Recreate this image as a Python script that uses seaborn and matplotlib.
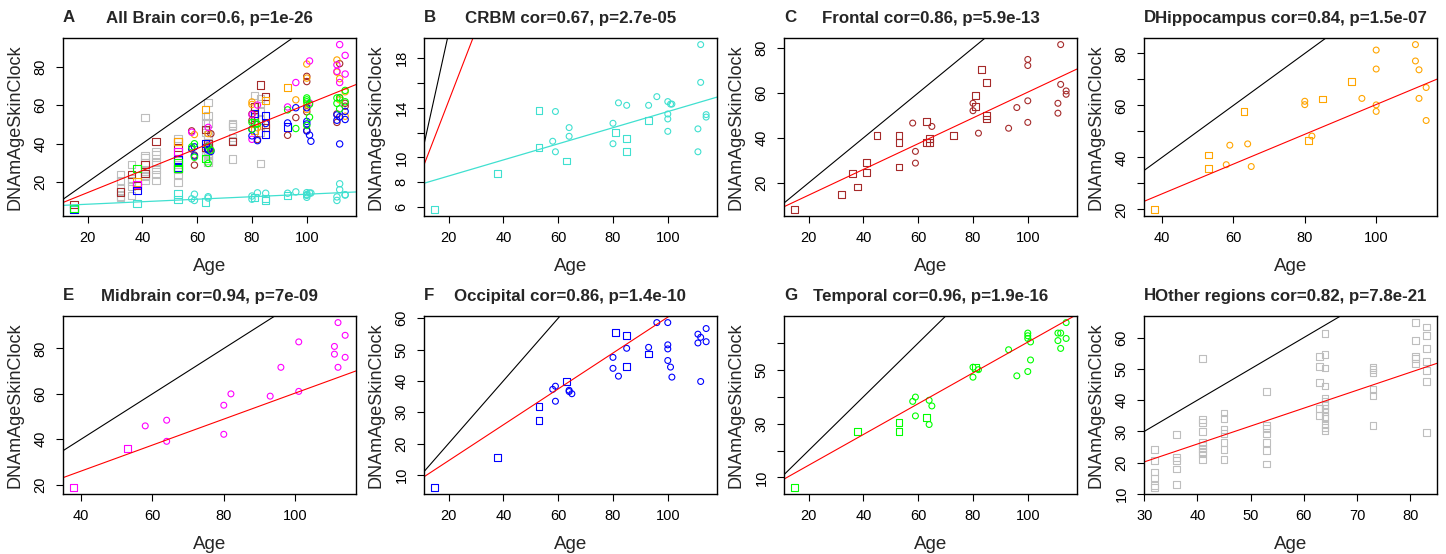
import numpy as np
import pandas as pd
import matplotlib
matplotlib.use("Agg")
import matplotlib.pyplot as plt
import seaborn as sns

# ---------------- data ----------------
crbm_sq_age = [15, 38, 53, 53, 63, 81, 85, 85, 93]
crbm_sq_val = [5.8, 8.7, 13.8, 10.8, 9.7, 12.0, 11.5, 10.45, 13.0]
crbm_ci_age = [58, 59, 59, 64, 64, 80, 80, 82, 85, 93, 96, 100, 100, 100, 100, 101, 101.5,
               111, 111, 112, 112, 114, 114]
crbm_ci_val = [11.3, 13.7, 10.45, 12.4, 11.7, 12.75, 11.1, 14.4, 14.2, 14.2, 14.9, 14.5, 13.5,
               13.1, 12.1, 14.3, 14.3, 12.3, 10.45, 19.1, 16.05, 13.45, 13.25]

frontal_sq_age = [15, 32, 36, 38, 41, 41, 45, 53, 53, 53, 63, 63, 64, 64, 73, 81, 81, 83, 85, 85, 85]
frontal_sq_val = [8.2, 14.9, 24.1, 18.2, 29.0, 24.6, 41.0, 41.0, 37.8, 27.1, 47.4, 37.8, 39.9,
                  37.8, 41.0, 59.0, 53.8, 70.4, 64.6, 50.1, 48.4]
frontal_ci_age = [58, 59, 59, 65, 80, 80, 82, 93, 96, 100, 100, 100, 100, 111, 111, 112, 112, 114, 114]
frontal_ci_val = [46.6, 34.0, 28.8, 45.1, 55.4, 52.1, 42.1, 44.3, 53.5, 74.9, 72.2, 56.5, 46.9,
                  55.4, 51.0, 81.5, 63.8, 60.9, 59.4]

hippo_sq_age = [38, 53, 53, 63, 81, 85, 93]
hippo_sq_val = [20.0, 40.9, 35.6, 57.7, 46.6, 62.5, 69.2]
hippo_ci_age = [58, 59, 64, 65, 80, 80, 82, 96, 100, 100, 100, 100, 111, 111, 112, 112, 114, 114]
hippo_ci_val = [37.2, 44.7, 45.2, 36.5, 61.6, 60.3, 48.2, 62.7, 81.3, 74.0, 60.2, 57.7, 83.4,
                77.1, 73.7, 62.7, 66.9, 54.2]

midbrain_sq_age = [38, 53]
midbrain_sq_val = [18.8, 36.0]
midbrain_ci_age = [58, 64, 64, 80, 80, 82, 93, 96, 101, 101, 111, 111, 112, 112, 114, 114]
midbrain_ci_val = [45.9, 48.4, 39.1, 55.0, 42.2, 60.0, 59.0, 71.7, 82.9, 61.1, 80.9, 77.5,
                   91.4, 71.7, 85.8, 76.1]

occip_sq_age = [15, 38, 53, 53, 63, 81, 85, 85, 93]
occip_sq_val = [6.0, 15.5, 31.7, 27.4, 39.9, 55.5, 54.4, 44.6, 48.6]
occip_ci_age = [58, 59, 59, 64, 64, 65, 80, 80, 82, 85, 93, 96, 100, 100, 100, 100, 101, 101.5,
                111, 111, 112, 112, 114, 114]
occip_ci_val = [37.3, 38.3, 33.5, 37.0, 36.6, 35.9, 47.5, 44.0, 41.5, 50.4, 50.7, 58.6, 58.6,
                51.5, 50.2, 46.5, 44.4, 41.2, 54.9, 52.1, 53.9, 39.8, 56.7, 52.5]

temporal_sq_age = [15, 38, 53, 53, 63, 81]
temporal_sq_val = [6.3, 27.0, 30.3, 27.2, 32.3, 51.0]
temporal_ci_age = [58, 59, 59, 64, 64, 65, 80, 80, 82, 93, 96, 100, 100, 100, 100, 101, 101,
                   111, 111, 112, 112, 114, 114]
temporal_ci_val = [38.3, 39.9, 32.9, 38.7, 29.7, 36.6, 51.0, 47.3, 50.1, 57.5, 47.8, 63.7, 62.7,
                   61.7, 49.4, 60.4, 53.7, 63.7, 60.9, 63.7, 58.0, 67.6, 61.7]

other_sq_age = ([32] * 6 + [36] * 5 + [41] * 10 + [45] * 7 + [53] * 7 + [63] * 5 + [64] * 14
                + [73] * 6 + [81] * 5 + [83] * 7)
other_sq_val = [24.1, 20.6, 17.0, 15.1, 12.7, 12.1,
                29.0, 21.6, 20.6, 18.0, 13.0,
                53.4, 33.9, 32.8, 29.9, 26.5, 25.6, 24.6, 23.5, 22.8, 20.9,
                35.9, 34.1, 30.6, 29.3, 26.4, 24.1, 20.9,
                42.8, 32.0, 30.9, 29.2, 26.5, 23.8, 19.6,
                53.9, 50.7, 45.7, 37.3, 35.2,
                61.3, 54.7, 50.3, 44.5, 40.7, 39.6, 38.3, 37.3, 36.4, 34.8, 34.1, 32.2, 31.2, 30.4,
                50.5, 49.7, 48.9, 43.3, 41.5, 32.0,
                64.8, 59.2, 54.0, 53.4, 51.8,
                63.4, 60.7, 56.5, 52.3, 49.4, 45.9, 29.6]
other_ci_age = []
other_ci_val = []

regions = ["Other regions", "CRBM", "Frontal", "Hippocampus", "Midbrain", "Occipital", "Temporal"]
region_colors = ["#BEBEBE", "#40E0D0", "#A52A2A", "#FFA500", "#FF00FF", "#0000FF", "#00FF00"]
palette = dict(zip(regions, region_colors))

raw = {
    "Other regions": (other_sq_age, other_sq_val, other_ci_age, other_ci_val),
    "CRBM": (crbm_sq_age, crbm_sq_val, crbm_ci_age, crbm_ci_val),
    "Frontal": (frontal_sq_age, frontal_sq_val, frontal_ci_age, frontal_ci_val),
    "Hippocampus": (hippo_sq_age, hippo_sq_val, hippo_ci_age, hippo_ci_val),
    "Midbrain": (midbrain_sq_age, midbrain_sq_val, midbrain_ci_age, midbrain_ci_val),
    "Occipital": (occip_sq_age, occip_sq_val, occip_ci_age, occip_ci_val),
    "Temporal": (temporal_sq_age, temporal_sq_val, temporal_ci_age, temporal_ci_val),
}
rows = []
for reg in regions:
    sa, sv, ca, cv = raw[reg]
    rows += [(a, v, reg, "sq") for a, v in zip(sa, sv)]
    rows += [(a, v, reg, "ci") for a, v in zip(ca, cv)]
df = pd.DataFrame(rows, columns=["Age", "Clock", "Region", "Shape"])

panel_letters = ["A", "B", "C", "D", "E", "F", "G", "H"]
panel_titles = ["All Brain cor=0.6, p=1e-26", "CRBM cor=0.67, p=2.7e-05",
                "Frontal cor=0.86, p=5.9e-13", "Hippocampus cor=0.84, p=1.5e-07",
                "Midbrain cor=0.94, p=7e-09", "Occipital cor=0.86, p=1.4e-10",
                "Temporal cor=0.96, p=1.9e-16", "Other regions cor=0.82, p=7.8e-21"]
panel_regions = [regions, ["CRBM"], ["Frontal"], ["Hippocampus"], ["Midbrain"],
                 ["Occipital"], ["Temporal"], ["Other regions"]]
panel_xticks = [[20, 40, 60, 80, 100]] * 3 + [[40, 60, 80, 100]] * 2 + [[20, 40, 60, 80, 100]] * 2 \
    + [[30, 40, 50, 60, 70, 80]]
panel_yticks = [[20, 40, 60, 80], [6, 8, 10, 12, 14, 16, 18], [20, 40, 60, 80],
                [20, 30, 40, 50, 60, 70, 80], [20, 40, 60, 80], [10, 20, 30, 40, 50, 60],
                [10, 20, 30, 40, 50, 60], [10, 20, 30, 40, 50, 60]]
panel_ylabels = [["20", "40", "60", "80"], ["6", "8", "10", "", "14", "", "18"],
                 ["20", "40", "60", "80"], ["20", "", "40", "", "60", "", "80"],
                 ["20", "40", "60", "80"], ["10", "20", "30", "40", "50", "60"],
                 ["10", "", "30", "", "50", ""], ["10", "20", "30", "40", "50", "60"]]

# ---------------- style ----------------
sns.set_theme(style="ticks")
plt.rcParams["font.family"] = ["Liberation Sans", "DejaVu Sans"]
plt.rcParams["axes.edgecolor"] = "black"
plt.rcParams["xtick.color"] = "black"
plt.rcParams["ytick.color"] = "black"

W, H = 1446, 554
fig = plt.figure(figsize=(W / 100, H / 100), dpi=100)
fig.patch.set_facecolor("white")

col_left = [63, 424, 784, 1144]
ax_w = 293
row_top = [38, 316]
ax_h = 178

# overall (non-cerebellum) regression for the red line, CRBM regression for the cyan line
brain = df[df.Region != "CRBM"]
red_b, red_a = np.polyfit(brain.Age, brain.Clock, 1)
crbm = df[df.Region == "CRBM"]
cy_b, cy_a = np.polyfit(crbm.Age, crbm.Clock, 1)

for i in range(8):
    r, c = divmod(i, 4)
    left, top = col_left[c], row_top[r]
    ax = fig.add_axes([left / W, 1 - (top + ax_h) / H, ax_w / W, ax_h / H])
    sub = df[df.Region.isin(panel_regions[i])]
    scale = 1.15 if i == 0 else 1.0
    for shape, mk, s in [("sq", "s", 24), ("ci", "o", 18)]:
        part = sub[sub.Shape == shape]
        if len(part) == 0:
            continue
        sns.scatterplot(data=part, x="Age", y="Clock", hue="Region", palette=palette,
                        marker=mk, s=s * scale, linewidth=0.8, legend=False, ax=ax)
        coll = ax.collections[-1]
        fc = coll.get_facecolors()
        coll.set_edgecolors(fc)
        coll.set_facecolors("none")
    xr = sub.Age.max() - sub.Age.min()
    yr = sub.Clock.max() - sub.Clock.min()
    ax.set_xlim(sub.Age.min() - 0.04 * xr, sub.Age.max() + 0.04 * xr)
    ax.set_ylim(sub.Clock.min() - 0.04 * yr, sub.Clock.max() + 0.04 * yr)

    ax.axline((0, 0), slope=1, color="black", lw=0.8)
    ax.axline((0, red_a), slope=red_b, color="red", lw=0.8)
    if i in (0, 1):
        ax.axline((0, cy_a), slope=cy_b, color="#40E0D0", lw=0.9)

    ax.set_xticks(panel_xticks[i])
    ax.set_yticks(panel_yticks[i])
    ax.set_yticklabels(panel_ylabels[i], rotation=90, va="center")
    ax.tick_params(axis="both", labelsize=10.5, length=5, width=0.8, pad=6, direction="out")
    for sp in ax.spines.values():
        sp.set_visible(True)
        sp.set_color("black")
        sp.set_linewidth(1.0)
    ax.set_xlabel("Age", fontsize=13.5, labelpad=9)
    ax.set_ylabel("DNAmAgeSkinClock", fontsize=13, labelpad=7)
    ax.text(0.5, 1 + 20 / ax_h, panel_titles[i], transform=ax.transAxes, ha="center",
            va="center", fontsize=12.2, fontweight="bold")
    ax.text(0.0, 1 + 20 / ax_h, panel_letters[i], transform=ax.transAxes, ha="left",
            va="center", fontsize=12.2, fontweight="bold")

fig.savefig("out.png", dpi=100, facecolor="white")
